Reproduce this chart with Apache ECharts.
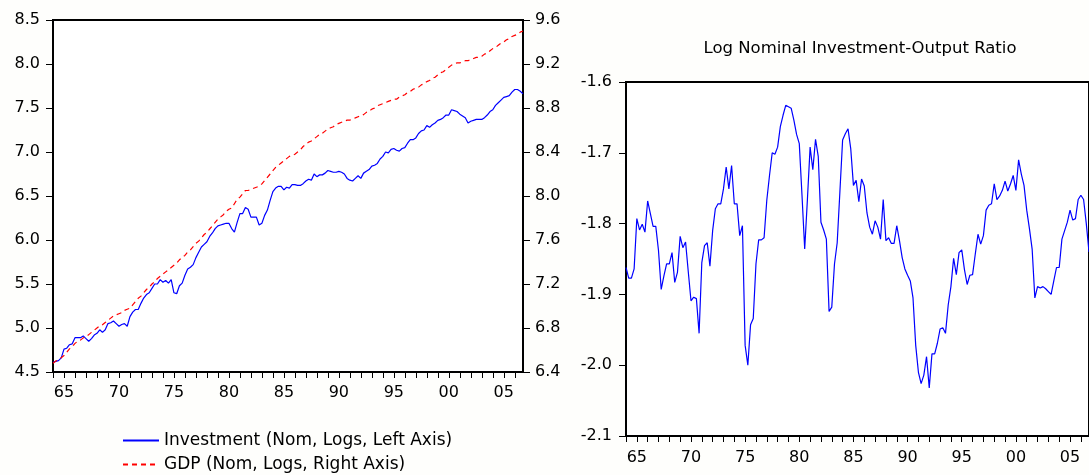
<!DOCTYPE html>
<html>
<head>
<meta charset="utf-8">
<script src="https://cdn.jsdelivr.net/npm/echarts@6/dist/echarts.min.js"></script>
<style>
html,body{margin:0;padding:0;background:#fefefc;}
#c{width:1089px;height:475px;}
</style>
</head>
<body>
<div id="c"></div>
<script>
// Quarterly observations 1964Q1 .. 2006Q4
const startYear = 1964, endYear = 2006;
const quarters = [];
for (let y = startYear; y <= endYear; y++) for (let q = 1; q <= 4; q++) quarters.push(y + 'Q' + q);

const investment = [
 4.61,4.62,4.63,4.66, 4.76,4.77,4.81,4.82, 4.89,4.89,4.89,4.91, 4.88,4.85,4.88,4.92,
 4.94,4.98,4.95,4.98, 5.05,5.06,5.08,5.05, 5.02,5.04,5.05,5.02, 5.13,5.18,5.21,5.21,
 5.28,5.34,5.38,5.40, 5.45,5.50,5.50,5.55, 5.52,5.54,5.51,5.55, 5.40,5.39,5.48,5.51,
 5.60,5.67,5.69,5.72, 5.80,5.86,5.92,5.95, 5.98,6.04,6.08,6.13, 6.16,6.17,6.18,6.19,
 6.19,6.13,6.09,6.20, 6.30,6.30,6.37,6.35, 6.26,6.26,6.26,6.17, 6.19,6.28,6.34,6.45,
 6.55,6.59,6.61,6.61, 6.57,6.60,6.59,6.63, 6.63,6.62,6.62,6.64, 6.67,6.69,6.68,6.75,
 6.72,6.74,6.74,6.76, 6.79,6.78,6.77,6.77, 6.78,6.77,6.75,6.70, 6.68,6.67,6.70,6.73,
 6.70,6.76,6.78,6.80, 6.84,6.85,6.87,6.92, 6.95,7.00,6.99,7.03, 7.04,7.02,7.01,7.04,
 7.05,7.10,7.14,7.14, 7.16,7.21,7.24,7.25, 7.30,7.28,7.31,7.33, 7.36,7.37,7.39,7.42,
 7.42,7.48,7.47,7.46, 7.43,7.41,7.39,7.33, 7.35,7.36,7.37,7.37, 7.37,7.39,7.42,7.46,
 7.48,7.53,7.56,7.59, 7.62,7.63,7.64,7.68, 7.71,7.71,7.69,7.66
];

const gdp = [
 6.48,6.50,6.51,6.53, 6.55,6.58,6.61,6.63, 6.66,6.68,6.69,6.71, 6.72,6.74,6.76,6.78,
 6.80,6.82,6.83,6.85, 6.87,6.89,6.91,6.92, 6.93,6.94,6.96,6.97, 6.98,7.01,7.04,7.07,
 7.09,7.12,7.15,7.17, 7.20,7.22,7.25,7.27, 7.29,7.31,7.33,7.35, 7.37,7.39,7.42,7.44,
 7.46,7.49,7.51,7.54, 7.57,7.59,7.62,7.65, 7.67,7.70,7.73,7.76, 7.79,7.81,7.83,7.86,
 7.88,7.89,7.93,7.97, 7.99,8.02,8.05,8.05, 8.06,8.07,8.08,8.09, 8.11,8.14,8.17,8.20,
 8.23,8.26,8.28,8.30, 8.32,8.34,8.36,8.37, 8.38,8.40,8.42,8.45, 8.47,8.49,8.50,8.52,
 8.54,8.56,8.57,8.59, 8.61,8.62,8.63,8.65, 8.66,8.67,8.68,8.69, 8.69,8.70,8.71,8.72,
 8.73,8.74,8.76,8.77, 8.79,8.80,8.82,8.83, 8.84,8.85,8.86,8.87, 8.88,8.88,8.90,8.91,
 8.92,8.94,8.95,8.97, 8.98,8.99,9.01,9.02, 9.04,9.05,9.07,9.08, 9.10,9.12,9.13,9.15,
 9.17,9.19,9.20,9.21, 9.21,9.22,9.23,9.23, 9.24,9.25,9.26,9.26, 9.27,9.29,9.30,9.32,
 9.34,9.35,9.37,9.39, 9.40,9.42,9.43,9.45, 9.46,9.47,9.49,9.50
];

const ratio = [
 -1.862,-1.877,-1.877,-1.864, -1.793,-1.809,-1.801,-1.812, -1.768,-1.786,-1.804,-1.804,
 -1.838,-1.893,-1.874,-1.857, -1.857,-1.841,-1.883,-1.869, -1.818,-1.834,-1.826,-1.868,
 -1.909,-1.904,-1.906,-1.955, -1.855,-1.831,-1.827,-1.860, -1.810,-1.779,-1.772,-1.772,
 -1.751,-1.720,-1.751,-1.718, -1.772,-1.772,-1.817,-1.803, -1.972,-2.000,-1.943,-1.934,
 -1.857,-1.823,-1.823,-1.820, -1.767,-1.732,-1.700,-1.702, -1.692,-1.663,-1.647,-1.633,
 -1.635,-1.637,-1.654,-1.674, -1.687,-1.760,-1.836,-1.766, -1.692,-1.724,-1.681,-1.705,
 -1.798,-1.809,-1.822,-1.924, -1.918,-1.857,-1.827,-1.755, -1.682,-1.673,-1.666,-1.694,
 -1.746,-1.739,-1.769,-1.737, -1.747,-1.785,-1.805,-1.815, -1.796,-1.805,-1.822,-1.766,
 -1.824,-1.820,-1.828,-1.828, -1.803,-1.824,-1.848,-1.864, -1.873,-1.881,-1.905,-1.972,
 -2.010,-2.026,-2.014,-1.988, -2.032,-1.984,-1.984,-1.969, -1.949,-1.947,-1.955,-1.915,
 -1.889,-1.849,-1.872,-1.841, -1.837,-1.865,-1.886,-1.873, -1.872,-1.843,-1.815,-1.829,
 -1.817,-1.781,-1.774,-1.772, -1.744,-1.766,-1.761,-1.753, -1.740,-1.754,-1.744,-1.732,
 -1.753,-1.710,-1.730,-1.746, -1.781,-1.807,-1.836,-1.905, -1.889,-1.891,-1.889,-1.892,
 -1.896,-1.900,-1.881,-1.862, -1.862,-1.822,-1.810,-1.798, -1.781,-1.795,-1.793,-1.766,
 -1.760,-1.766,-1.800,-1.840
];

const invName = 'Investment (Nom, Logs, Left Axis)';
const gdpName = 'GDP (Nom, Logs, Right Axis)';
const ratioTitle = 'Log Nominal Investment-Output Ratio';

const FONT = 'DejaVu Sans';
const txt = {fontFamily: FONT, fontSize: 16, color: '#000'};

function xAxisCfg(gridIndex, margin) {
  return {
    type: 'category', gridIndex, data: quarters, boundaryGap: false,
    axisLine: {show: true, lineStyle: {color: '#000', width: 2}},
    axisTick: {show: true, length: 6, inside: false,
      interval: (i) => i % 4 === 0, lineStyle: {color: '#000', width: 1}},
    axisLabel: Object.assign({}, txt, {
      margin, interval: (i) => i % 20 === 4,
      formatter: (v) => v.slice(2, 4)}),
    splitLine: {show: false}
  };
}
function yAxisCfg(gridIndex, pos, min, max, interval, margin, dec) {
  return {
    type: 'value', gridIndex, position: pos, min, max, interval,
    axisLine: {show: true, lineStyle: {color: '#000', width: 2}},
    axisTick: {show: true, length: 7, lineStyle: {color: '#000', width: 1}},
    axisLabel: Object.assign({}, txt, {margin, formatter: (v) => v.toFixed(dec)}),
    splitLine: {show: false}
  };
}

const chart = echarts.init(document.getElementById('c'), null, {renderer: 'canvas'});
chart.setOption({
  animation: false,
  backgroundColor: '#fefefc',
  title: {
    text: ratioTitle, left: 860, top: 40, textAlign: 'center', padding: 0,
    textStyle: {fontFamily: FONT, fontSize: 16.5, fontWeight: 'normal', color: '#000'}
  },
  legend: {
    data: [invName, gdpName], orient: 'vertical', left: 122, top: 432, padding: 0,
    itemWidth: 36, itemHeight: 14, itemGap: 7,
    itemStyle: {opacity: 0},
    textStyle: {fontFamily: FONT, fontSize: 17, color: '#000'}
  },
  grid: [
    {left: 53, top: 20, width: 470, height: 352, show: true, borderColor: '#000', borderWidth: 2, backgroundColor: '#fff'},
    {left: 626, top: 82, width: 468, height: 354, show: true, borderColor: '#000', borderWidth: 2, backgroundColor: '#fff'}
  ],
  xAxis: [xAxisCfg(0, 13), xAxisCfg(1, 14)],
  yAxis: [
    yAxisCfg(0, 'left', 4.5, 8.5, 0.5, 13, 1),
    yAxisCfg(0, 'right', 6.4, 9.6, 0.4, 12, 1),
    yAxisCfg(1, 'left', -2.1, -1.6, 0.1, 14, 1)
  ],
  series: [
    {name: invName, type: 'line', xAxisIndex: 0, yAxisIndex: 0, data: investment,
     symbol: 'none', lineStyle: {color: '#0000ff', width: 1.2}, itemStyle: {color: '#0000ff'}},
    {name: gdpName, type: 'line', xAxisIndex: 0, yAxisIndex: 1, data: gdp,
     symbol: 'none', lineStyle: {color: '#ff0000', width: 1.2, type: [5, 4]}, itemStyle: {color: '#ff0000'}},
    {name: 'ratio', type: 'line', xAxisIndex: 1, yAxisIndex: 2, data: ratio,
     symbol: 'none', lineStyle: {color: '#0000ff', width: 1.2}, itemStyle: {color: '#0000ff'}}
  ]
});
</script>
</body>
</html>
